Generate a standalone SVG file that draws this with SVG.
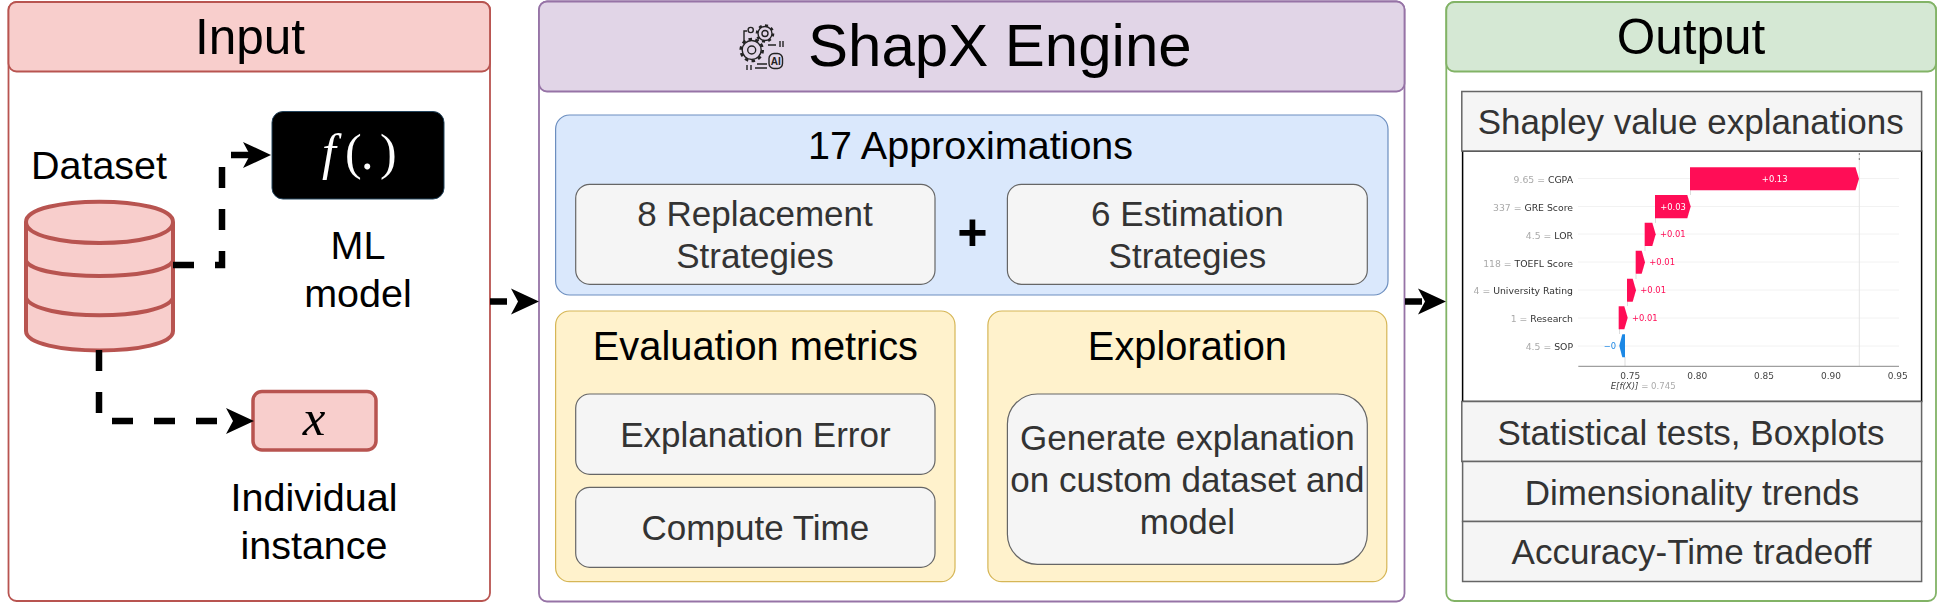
<svg xmlns="http://www.w3.org/2000/svg" width="1938" height="603" viewBox="0 0 1938 603">
<style>
text{font-family:"Liberation Sans",Arial,sans-serif}
.c{text-anchor:middle}
.h{font-size:49.5px;fill:#000}
.l{font-size:39.5px;fill:#000}
.g{font-size:35px;fill:#333}
.o{font-size:35px;fill:#333}
.box{fill:#f5f5f5;stroke:#666;stroke-width:1.2}
.bar{fill:#f5f5f5;stroke:#666;stroke-width:1.5}
.yel{fill:#fff2cc;stroke:#d6b656;stroke-width:1.2}
.conn{fill:none;stroke:#000;stroke-width:6.5}
.m{font-family:"Liberation Serif","Times New Roman",serif}
.s{font-family:"DejaVu Sans",sans-serif}
.f{font-size:9.3px;fill:#333;text-anchor:end}
.f tspan{fill:#aaa}
.v{font-size:8.4px;fill:#ff0d57}
.t{font-size:9px;fill:#444;text-anchor:middle}
.r{fill:#ff0d57}
.grid{stroke:#f2f2f2;stroke-width:1}
.ic{fill:none;stroke:#222;stroke-width:1.4}
</style>
<defs>
<marker id="head" markerUnits="userSpaceOnUse" markerWidth="30" markerHeight="28" refX="7" refY="14" orient="auto">
<path d="M0,1 L28,14 L0,27 L7,14 Z" fill="#000"/>
</marker>
<filter id="soft" x="-2%" y="-2%" width="104%" height="104%"><feGaussianBlur stdDeviation="0.3"/></filter>
</defs>

<g id="input-panel">
<rect x="8.5" y="2" width="481.5" height="599" rx="8" fill="#fff" stroke="#b85450" stroke-width="1.8"/>
<rect x="8.5" y="2" width="481.5" height="69.5" rx="8" fill="#f8cecc" stroke="#b85450" stroke-width="1.8"/>
<text class="h c" x="250" y="54">Input</text>
</g>
<g id="dataset">
<text class="l c" x="99" y="179">Dataset</text>
<path d="M26,222 C26,195 173,195 173,222 L173,331 C173,357 26,357 26,331 Z" fill="#f8cecc" stroke="#b85450" stroke-width="4"/>
<path d="M26,222 C26,250 173,250 173,222 M26,261 C36,281 163,281 173,261 M26,298 C36,321 163,321 173,298" fill="none" stroke="#b85450" stroke-width="4"/>
</g>
<g id="ml-model">
<rect x="272" y="111.5" width="172" height="87.5" rx="11" fill="#000" stroke="#23445d" stroke-width="1"/>
<text class="m" font-size="50" fill="#fff" y="169"><tspan x="322" font-style="italic">f</tspan><tspan x="345">(</tspan><tspan x="361">.</tspan><tspan x="380">)</tspan></text>
<text class="l c" x="358" y="258.5">ML</text>
<text class="l c" x="358" y="306.5">model</text>
</g>
<g id="instance">
<rect x="253" y="391.5" width="123" height="58.5" rx="9" fill="#f8cecc" stroke="#b85450" stroke-width="3.5"/>
<text class="m c" font-size="51" font-style="italic" fill="#000" x="314" y="435">x</text>
<text class="l c" x="314" y="511">Individual</text>
<text class="l c" x="314" y="558.5">instance</text>
</g>

<g id="engine-panel">
<rect x="539" y="1.5" width="865.5" height="600" rx="8" fill="#fff" stroke="#9673a6" stroke-width="1.8"/>
<rect x="539" y="1.5" width="865.5" height="90" rx="8" fill="#e1d5e7" stroke="#9673a6" stroke-width="1.8"/>
<text x="808" y="66" font-size="60" fill="#000">ShapX Engine</text>
</g>
<g id="engine-icon">
<circle class="ic" cx="751.7" cy="50" r="9.5"/>
<circle cx="751.7" cy="50" r="11" fill="none" stroke="#222" stroke-width="2.6" stroke-dasharray="3.5 3.4"/>
<circle class="ic" cx="751.7" cy="50" r="4"/>
<circle class="ic" cx="765" cy="33.5" r="7"/>
<circle cx="765" cy="33.5" r="8.2" fill="none" stroke="#222" stroke-width="2.2" stroke-dasharray="3 3.4"/>
<circle class="ic" cx="765" cy="33.5" r="3"/>
<circle class="ic" cx="750.7" cy="30" r="2.6"/>
<path class="ic" d="M744,42 V31 H747 M768,45 H776 M780,41 V47 M783,41 V47 M747,65 V70 M751,65 V70 M755,68 H767 M757,64 H767"/>
<rect class="ic" x="769" y="53.5" width="13.5" height="15" rx="5"/>
<text x="775.8" y="65" class="c" font-size="10" font-weight="bold" fill="#222">AI</text>
</g>

<g id="approximations">
<rect x="555.6" y="115" width="832.4" height="180" rx="14" fill="#dae8fc" stroke="#6c8ebf" stroke-width="1.2"/>
<text class="c" x="970.6" y="159" font-size="39.5" fill="#000">17 Approximations</text>
<text class="c" x="972.4" y="250" font-size="52" font-weight="bold" fill="#000">+</text>
</g>
<g id="replacement">
<rect class="box" x="575.7" y="184.3" width="359.3" height="100" rx="14"/>
<text class="g c" x="755" y="226">8 Replacement</text>
<text class="g c" x="755" y="267.5">Strategies</text>
</g>
<g id="estimation">
<rect class="box" x="1007.4" y="184.3" width="359.9" height="100" rx="14"/>
<text class="g c" x="1187.4" y="226">6 Estimation</text>
<text class="g c" x="1187.4" y="267.5">Strategies</text>
</g>
<g id="evaluation">
<rect class="yel" x="555.6" y="311" width="399.4" height="270.7" rx="14"/>
<text class="c" x="755.4" y="360" font-size="39.8" fill="#000">Evaluation metrics</text>
</g>
<g id="explanation-error">
<rect class="box" x="575.7" y="394" width="359.3" height="80.3" rx="14"/>
<text class="g c" x="755.4" y="447">Explanation Error</text>
</g>
<g id="compute-time">
<rect class="box" x="575.7" y="487.3" width="359.3" height="80" rx="14"/>
<text class="g c" x="755.4" y="540">Compute Time</text>
</g>
<g id="exploration">
<rect class="yel" x="987.9" y="311" width="398.9" height="270.7" rx="14"/>
<text class="c" x="1187.4" y="360" font-size="39.8" fill="#000">Exploration</text>
</g>
<g id="generate">
<rect class="box" x="1007.4" y="394" width="359.9" height="170.3" rx="30"/>
<text class="g c" x="1187.4" y="450">Generate explanation</text>
<text class="g c" x="1187.4" y="492">on custom dataset and</text>
<text class="g c" x="1187.4" y="533.5">model</text>
</g>

<g id="output-panel">
<rect x="1446.3" y="2" width="489.7" height="599" rx="8" fill="#fff" stroke="#82b366" stroke-width="1.8"/>
<rect x="1446.3" y="2" width="489.7" height="69.5" rx="8" fill="#d5e8d4" stroke="#82b366" stroke-width="1.8"/>
<text class="h c" x="1691" y="54">Output</text>
</g>
<g id="shap-chart">
<rect x="1462.6" y="151" width="459" height="250.5" fill="#fff" stroke="#000" stroke-width="1.5"/>
<g filter="url(#soft)">
<path class="grid" d="M1578,178.5H1899M1578,206.5H1899M1578,234H1899M1578,262H1899M1578,290H1899M1578,318H1899M1578,346H1899"/>
<path d="M1859.3,155V366" stroke="#e4e4e4" stroke-width="1" fill="none"/>
<path d="M1690.5,190V195M1655.5,218V223M1645,246V251M1636,274V279M1627.5,302V306M1619.5,329V334M1625,357V366" stroke="#ddd" stroke-width="1" fill="none"/>
<path d="M1859.3,153V155M1859.3,158V160" stroke="#777" stroke-width="1"/>
<polygon class="r" points="1690,167.3 1855.5,167.3 1859,178.8 1855.5,190.3 1690,190.3"/>
<polygon class="r" points="1655,195 1687.3,195 1690.7,206.6 1687.3,218.3 1655,218.3"/>
<polygon class="r" points="1644.7,222.7 1652.3,222.7 1655.7,234.3 1652.3,246 1644.7,246"/>
<polygon class="r" points="1635.7,250.7 1641.7,250.7 1645,262.2 1641.7,273.7 1635.7,273.7"/>
<polygon class="r" points="1627,278.7 1632.7,278.7 1636,290.2 1632.7,301.7 1627,301.7"/>
<polygon class="r" points="1618.7,306.3 1624.3,306.3 1627.7,317.8 1624.3,329.3 1618.7,329.3"/>
<polygon fill="#1e88e5" points="1625,334.3 1622.3,334.3 1619.3,345.8 1622.3,357.3 1625,357.3"/>
<text class="s f" x="1573" y="183.3"><tspan>9.65 = </tspan>CGPA</text>
<text class="s f" x="1573" y="211.3"><tspan>337 = </tspan>GRE Score</text>
<text class="s f" x="1573" y="239"><tspan>4.5 = </tspan>LOR</text>
<text class="s f" x="1573" y="266.7"><tspan>118 = </tspan>TOEFL Score</text>
<text class="s f" x="1573" y="294.3"><tspan>4 = </tspan>University Rating</text>
<text class="s f" x="1573" y="322.3"><tspan>1 = </tspan>Research</text>
<text class="s f" x="1573" y="350"><tspan>4.5 = </tspan>SOP</text>
<text class="s v c" x="1774.7" y="182" style="fill:#fff">+0.13</text>
<text class="s v c" x="1673" y="210" style="fill:#fff">+0.03</text>
<text class="s v" x="1660" y="237.3">+0.01</text>
<text class="s v" x="1649.3" y="265">+0.01</text>
<text class="s v" x="1640.3" y="293">+0.01</text>
<text class="s v" x="1632" y="321">+0.01</text>
<text class="s v" x="1603.7" y="348.7" style="fill:#1e88e5">−0</text>
<text class="s t" x="1630.3" y="379">0.75</text>
<text class="s t" x="1697.3" y="379">0.80</text>
<text class="s t" x="1764" y="379">0.85</text>
<text class="s t" x="1831" y="379">0.90</text>
<text class="s t" x="1897.7" y="379">0.95</text>
<text class="s" x="1610.7" y="389" font-size="8.6" fill="#444"><tspan font-style="italic">E[f(X)]</tspan><tspan fill="#aaa"> = 0.745</tspan></text>
<path d="M1578.3,366.3H1899" stroke="#888" stroke-width="1" fill="none"/>
</g>
</g>
<g id="shapley-bar">
<rect class="bar" x="1461.8" y="91.5" width="459.8" height="59.5"/>
<text class="o c" x="1690.7" y="134">Shapley value explanations</text>
</g>
<g id="statistical-bar">
<rect class="bar" x="1461.8" y="401.5" width="459.8" height="60"/>
<text class="o c" x="1691" y="445">Statistical tests, Boxplots</text>
</g>
<g id="dimensionality-bar">
<rect class="bar" x="1462.6" y="461.5" width="459" height="60"/>
<text class="o c" x="1692" y="504.5">Dimensionality trends</text>
</g>
<g id="accuracy-bar">
<rect class="bar" x="1462.6" y="521.5" width="459" height="60"/>
<text class="o c" x="1691.5" y="564">Accuracy-Time tradeoff</text>
</g>

<g id="connectors">
<path class="conn" stroke-dasharray="21 21" d="M173,265H222V155H250" marker-end="url(#head)"/>
<path class="conn" stroke-dasharray="21 21" d="M99,350V421H233" marker-end="url(#head)"/>
<path class="conn" stroke-dasharray="17 21" d="M490,301.5H518" marker-end="url(#head)"/>
<path class="conn" stroke-dasharray="17 21" d="M1405,301.5H1425" marker-end="url(#head)"/>
</g>
</svg>
